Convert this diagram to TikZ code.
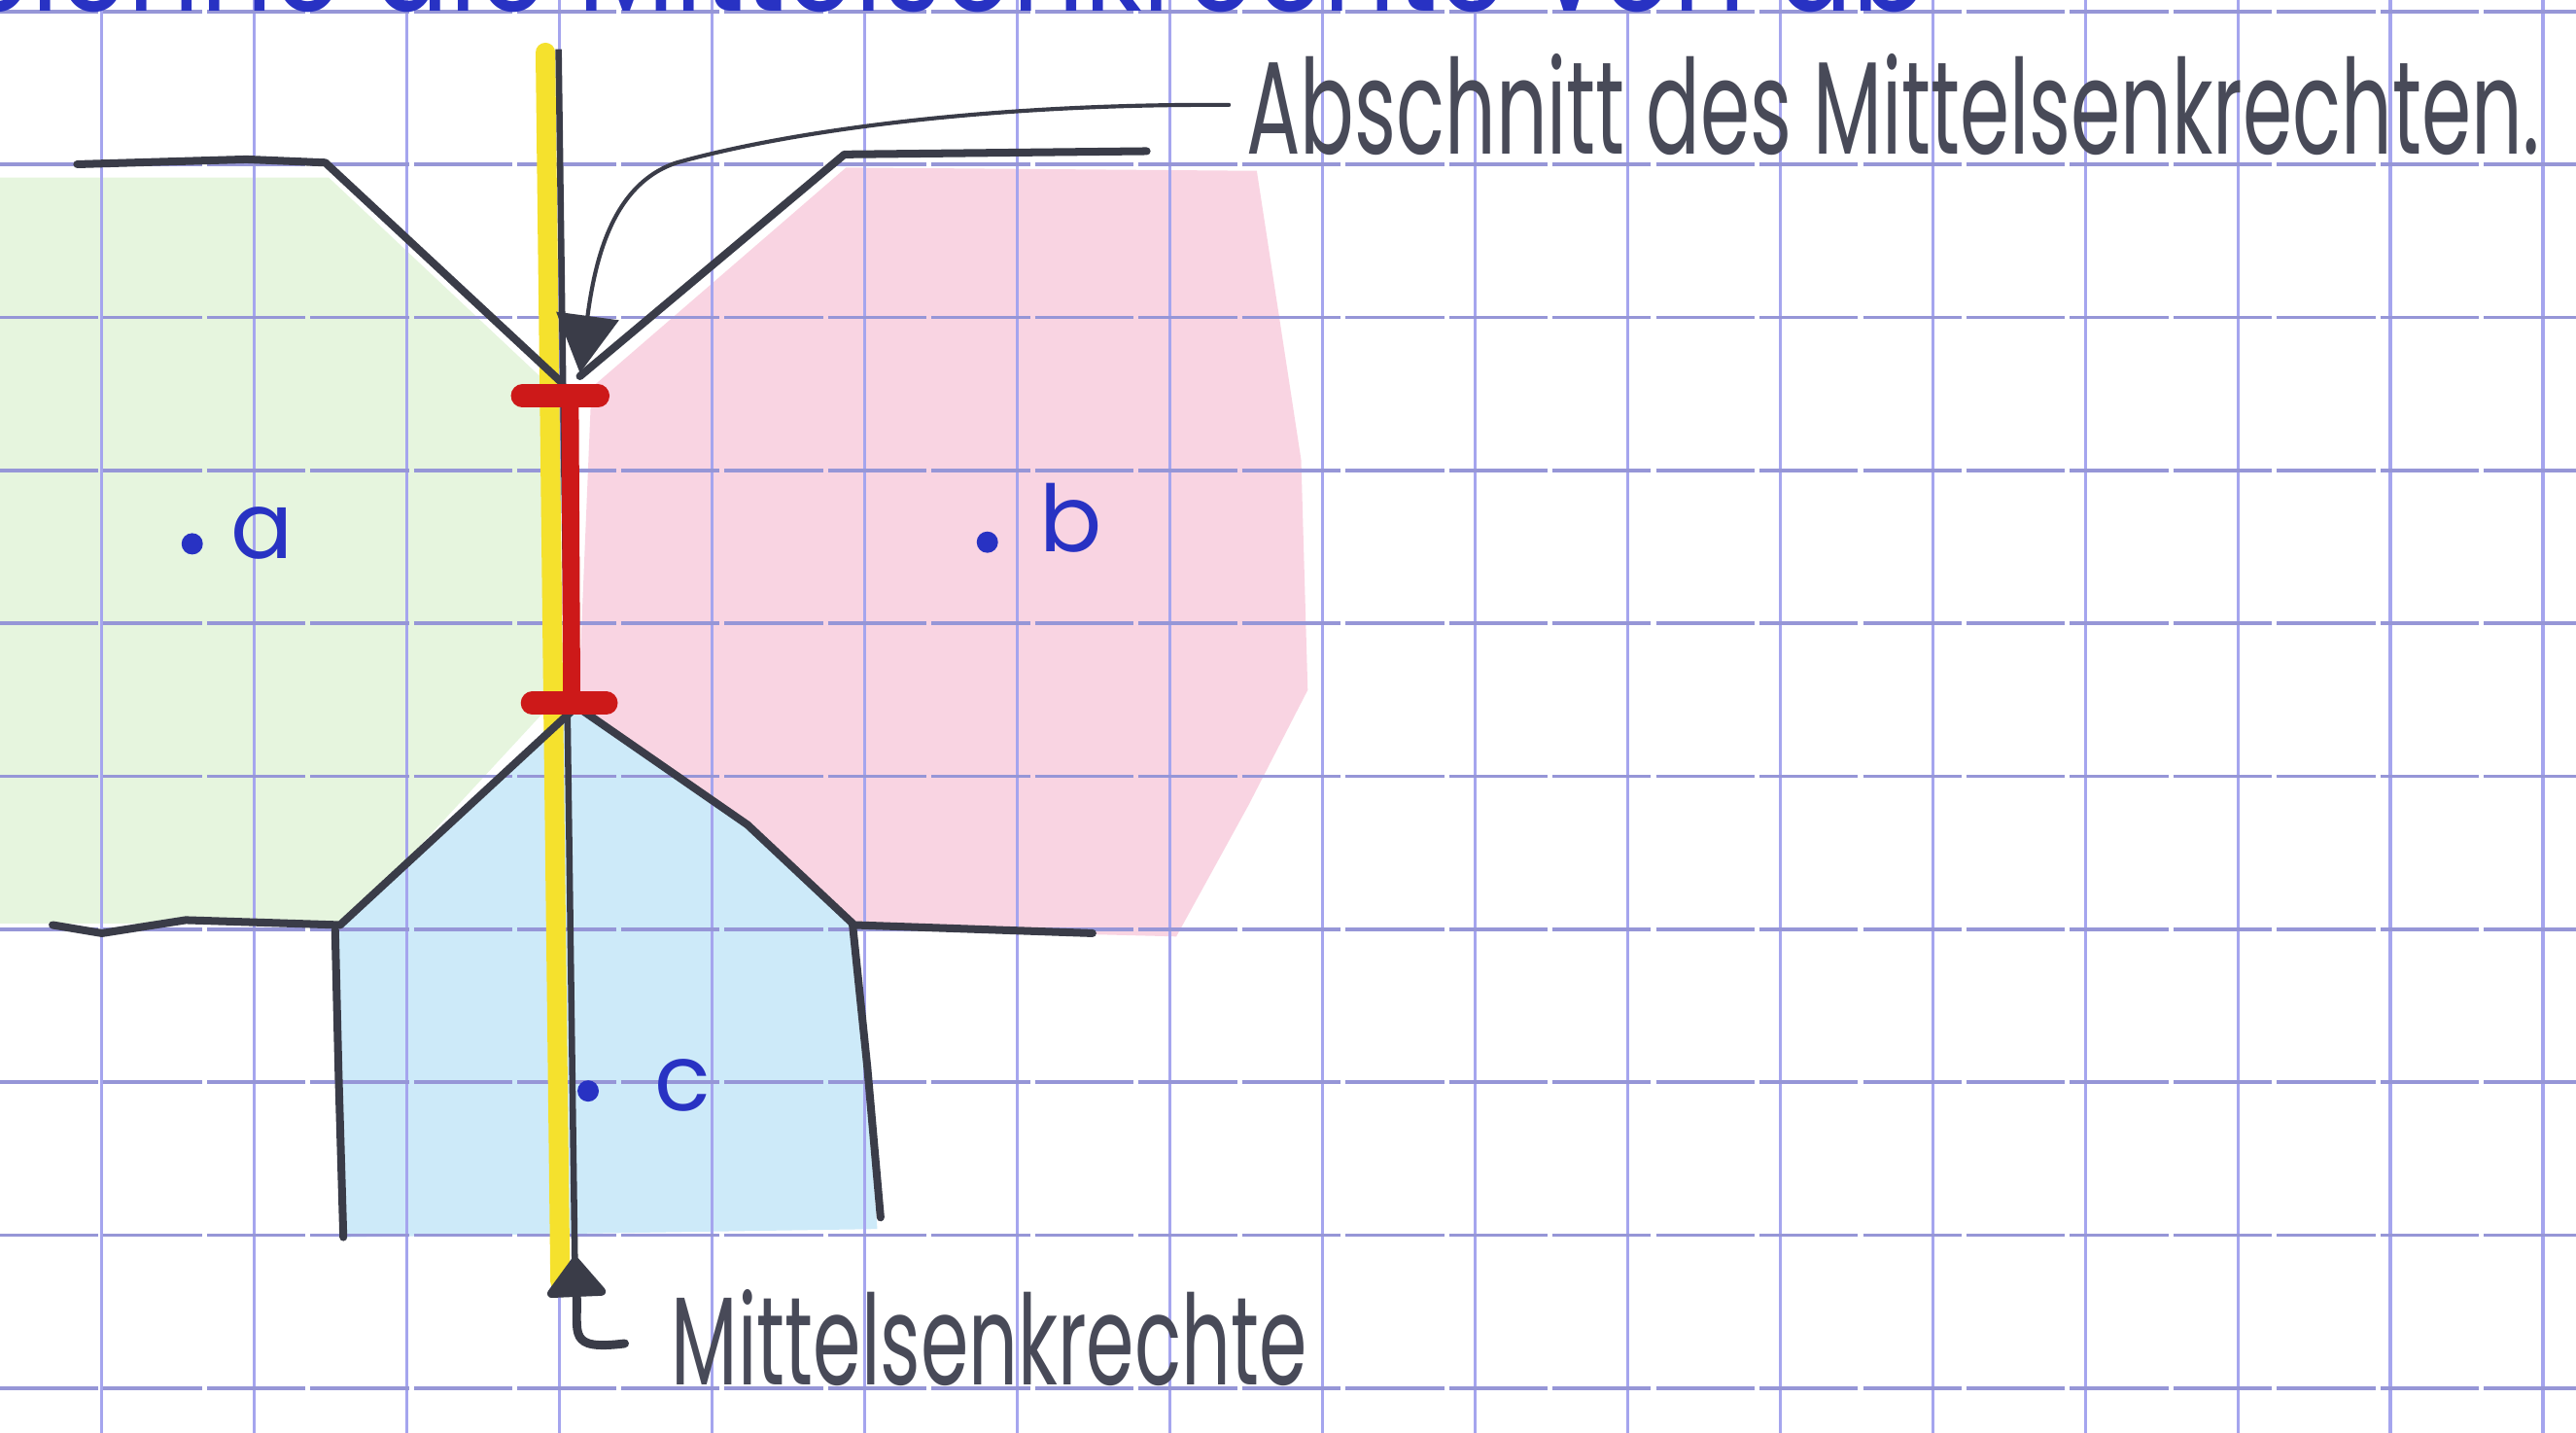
\documentclass[tikz,border=0pt]{standalone}
\usepackage{fontspec}
\setmainfont{Liberation Sans}
\newfontfamily\hand{Poppins}
\usetikzlibrary{arrows.meta}
\definecolor{gridc}{RGB}{165,165,238}
\definecolor{gridh}{RGB}{150,150,215}
\definecolor{ink}{RGB}{58,60,72}
\definecolor{txtink}{RGB}{72,74,88}
\definecolor{penblue}{RGB}{40,50,195}
\definecolor{hl}{RGB}{245,225,45}
\definecolor{redm}{RGB}{205,25,25}
\definecolor{fgreen}{RGB}{230,245,222}
\definecolor{fpink}{RGB}{249,212,226}
\definecolor{fblue}{RGB}{205,234,249}
\begin{document}
\begin{tikzpicture}[x=0.1mm,y=-0.1mm,
  gridv/.style={draw=gridc,line width=0.55pt},
  gridhz/.style={draw=gridh,line width=0.6pt,dash pattern=on 6mm off 0.3mm},
  bnd/.style={draw=ink,line width=1.35pt,line join=round,line cap=round},
  conn/.style={draw=ink,line cap=round},
  handtxt/.style={text=txtink,inner sep=0pt},
  ptlabel/.style={text=penblue,inner sep=0pt,font=\hand\fontsize{16pt}{18pt}\selectfont},
  ptdot/.style={circle,fill=penblue,inner sep=0pt,minimum size=1.3mm}]
\useasboundingbox (0,0) rectangle (1568,872);
\fill[white] (0,0) rectangle (1568,872);
\begin{scope}
\clip (0,0) rectangle (1568,872);
% coloured regions
\fill[fgreen] (0,108) -- (200,108) -- (336,236) -- (336,428) -- (212,562) -- (0,562) -- cycle;
\fill[fpink] (360,236) -- (515,102) -- (765,104) -- (792,280) -- (796,420) -- (760,490) -- (716,570) -- (520,565) -- (455,502) -- (352,430) -- (360,236) -- cycle;
\fill[fblue] (351,430) -- (455,502) -- (520,563) -- (534,748) -- (210,753) -- (206,565) -- cycle;
% grid
\foreach \i in {0,...,16} \draw[gridv] ({62+92.87*\i},0) -- ({62+92.87*\i},872);
\foreach \j in {0,...,9} \draw[gridhz] (0,{7+93.1*\j}) -- (1568,{7+93.1*\j});
% cut-off heading
\node[anchor=base east,inner sep=0pt,text=penblue] (head) at (1175,7)
  {\resizebox{123.5mm}{6.5mm}{\hand Zeichne die Mittelsenkrechte von ab}};
\end{scope}
% highlighter and perpendicular bisector
\draw[hl,line width=3.4pt,line cap=round] (332,32) -- (341,780);
\draw[ink,line width=1.1pt] (340,30) -- (350,776);
% region boundaries
\draw[bnd] (47,100) -- (150,97) -- (198,99) -- (341,232);
\draw[bnd] (353,229) -- (514,94) -- (698,92);
\draw[bnd] (32,563) -- (62,568) -- (113,560) -- (207,563) -- (351,430);
\draw[bnd] (204,566) -- (206,650) -- (209,753);
\draw[bnd] (351,430) -- (455,502) -- (520,563) -- (665,568);
\draw[bnd] (519,563) -- (528,650) -- (536,741);
% red section
\draw[redm,line width=3pt] (347,240) -- (348,428);
\draw[redm,line width=4pt,line cap=round] (318,241) -- (364,241);
\draw[redm,line width=4pt,line cap=round] (324,428) -- (369,428);
% points
\node[ptdot] (pa) at (117,331) {};
\node[ptlabel,anchor=base west] (la) at (140,340) {a};
\node[ptdot] (pb) at (601,330) {};
\node[ptlabel,anchor=base west] (lb) at (632,336) {b};
\node[ptdot] (pc) at (358,664) {};
\node[ptlabel,anchor=base west] (lc) at (398,676) {c};
% labels
\node[handtxt,anchor=base west] (lab1) at (758,94)
  {\resizebox{78.7mm}{6.1mm}{\hand Abschnitt des Mittelsenkrechten.}};
\node[handtxt,anchor=base west] (lab2) at (408,843)
  {\resizebox{38.7mm}{5.8mm}{\hand Mittelsenkrechte}};
% connectors
\coordinate (abstip) at (353,227);
\coordinate (mstip) at (350,765);
\draw[conn,line width=0.7pt,-{Triangle[length=3.5mm,width=3.8mm]}]
  ([xshift=-1mm]lab1.west) .. controls (600,63) and (480,80) .. (412,99)
  .. controls (372,112) and (362,160) .. (abstip);
\draw[conn,line width=1.5pt,-{Triangle[length=2.6mm,width=4mm,round]},shorten <=2.8mm]
  (lab2.west) .. controls (345,822) and (352,812) .. (mstip);
\end{tikzpicture}
\end{document}
